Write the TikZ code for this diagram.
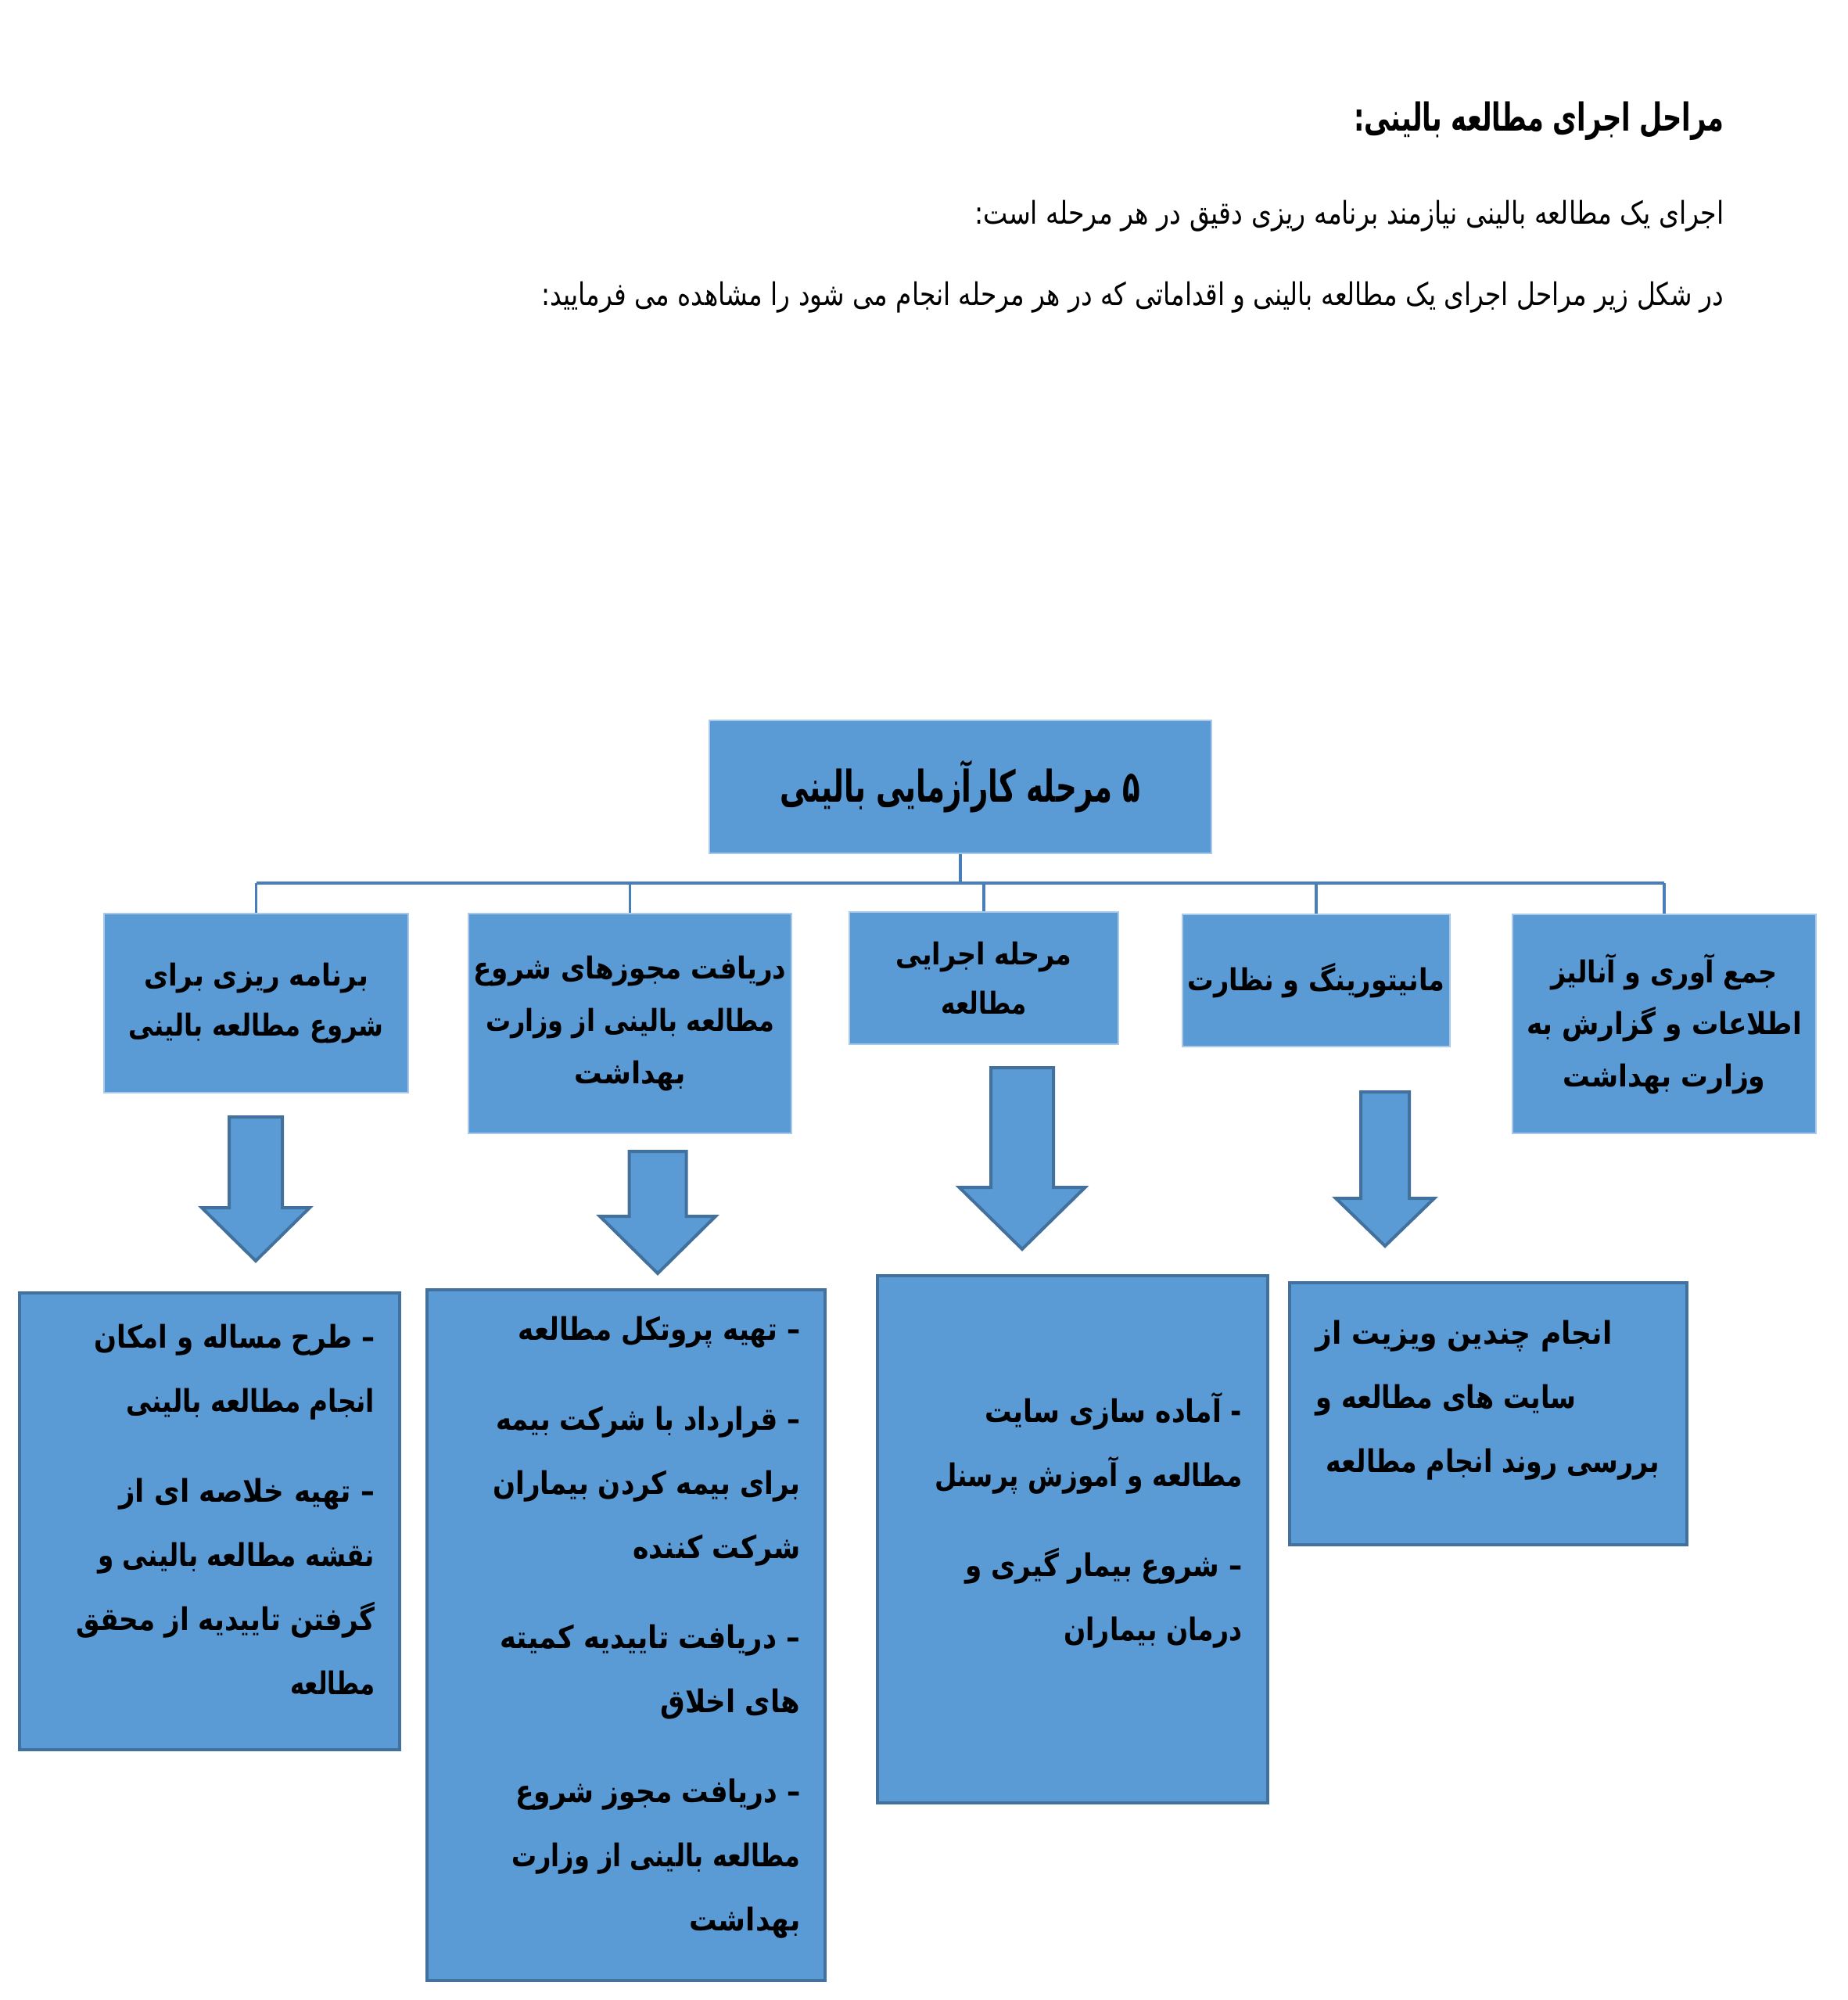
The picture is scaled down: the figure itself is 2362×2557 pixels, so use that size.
\documentclass[tikz,border=0pt]{standalone}
\usepackage{fontspec}
\usepackage{graphicx}
\TeXXeTstate=1
\newfontfamily\arfont[Script=Arabic]{DejaVu Sans}
\definecolor{boxblue}{HTML}{5B9BD5}
\definecolor{edgeblue}{HTML}{41719C}
\definecolor{connblue}{HTML}{4A7EBB}
\definecolor{lightedge}{HTML}{A9C9EA}
\newsavebox\fitbx
\newlength\fitln
% \fl{target width in px}{text}
\newcommand\fl[2]{\sbox\fitbx{#2}\setlength\fitln{\wd\fitbx}\pgfmathsetmacro\fitr{#1*0.3pt/\fitln}\scalebox{\fitr}[1]{\usebox\fitbx}}
\newcommand\fst{\rule{0pt}{14pt}}
\newcommand\leaffont{\arfont\bfseries\fontsize{12}{24.6}\selectfont}
\newcommand\ltwofont{\arfont\bfseries\fontsize{11.6}{19}\selectfont}
\newcommand\lthreefont{\arfont\bfseries\fontsize{11.6}{20}\selectfont}
\newcommand\blockdown[6]{\draw[blockarrow] ({#1-#3},#2) -- ({#1+#3},#2) -- ({#1+#3},#4) -- ({#1+#5},#4) -- (#1,#6) -- ({#1-#5},#4) -- ({#1-#3},#4) -- cycle;}
\begin{document}
\begin{tikzpicture}[x=0.3pt,y=-0.3pt,
  l2box/.style={rectangle,fill=boxblue,draw=lightedge,line width=0.5pt,inner sep=0pt,align=center},
  leafbox/.style={rectangle,fill=boxblue,draw=edgeblue,line width=1.2pt,inner sep=0pt},
  leaftext/.style={inner sep=0pt,align=right,font=\leaffont},
  hdr/.style={inner sep=0pt,anchor=base east},
  conn/.style={draw=connblue,line width=1.1pt},
  blockarrow/.style={fill=boxblue,draw=edgeblue,line width=1.2pt,line join=miter}]
\useasboundingbox[fill=white] (0,0) rectangle (2362,2557);

% header
\node[hdr,font=\arfont\bfseries\fontsize{14.8}{18}\selectfont] (title) at (2205,168) {\fl{473}{\beginR مراحل اجرای مطالعه بالینی:\endR}};
\node[hdr,font=\arfont\fontsize{12}{15}\selectfont] (intro1) at (2205,287) {\fl{958}{\beginR اجرای یک مطالعه بالینی نیازمند برنامه ریزی دقیق در هر مرحله است:\endR}};
\node[hdr,font=\arfont\fontsize{12}{15}\selectfont] (intro2) at (2205,390) {\fl{1512}{\beginR در شکل زیر مراحل اجرای یک مطالعه بالینی و اقداماتی که در هر مرحله انجام می شود را مشاهده می فرمایید:\endR}};

% top box
\node[l2box,minimum width=192.6pt,minimum height=51pt,font=\arfont\bfseries\fontsize{16.8}{20}\selectfont] (top) at (1228,1006) {\fl{461}{\beginR ۵ مرحله کارآزمایی بالینی\endR}};

% level 2
\node[l2box,minimum width=116.7pt,minimum height=68.7pt,font=\ltwofont] (s1) at (327.5,1282.5) {\fl{287}{\beginR برنامه ریزی برای\endR}\\\fl{326}{\beginR شروع مطالعه بالینی\endR}};
\node[l2box,minimum width=123.9pt,minimum height=84.3pt,font=\lthreefont] (s2) at (805.5,1308.5) {\fl{400}{\beginR دریافت مجوزهای شروع\endR}\\\fl{369}{\beginR مطالعه بالینی از وزارت\endR}\\\fl{142}{\beginR بهداشت\endR}};
\node[l2box,minimum width=103.2pt,minimum height=50.7pt,font=\ltwofont] (s3) at (1258,1250.5) {\fl{225}{\beginR مرحله اجرایی\endR}\\\fl{109}{\beginR مطالعه\endR}};
\node[l2box,minimum width=102.6pt,minimum height=50.7pt,font=\ltwofont] (s4) at (1683,1253.5) {\fl{329}{\beginR مانیتورینگ و نظارت\endR}};
\node[l2box,minimum width=116.4pt,minimum height=84pt,font=\lthreefont] (s5) at (2128,1309) {\fl{290}{\beginR جمع آوری و آنالیز\endR}\\\fl{352}{\beginR اطلاعات و گزارش به\endR}\\\fl{259}{\beginR وزارت بهداشت\endR}};

% connectors
\coordinate (bus) at (1228,1129);
\draw[conn] (top.south) -- (bus);
\draw[conn] (s1.north |- bus) -- (s5.north |- bus);
\foreach \s in {s1,s2,s3,s4,s5} \draw[conn] (\s.north |- bus) -- (\s.north);

% block arrows
\blockdown{327}{1428}{34}{1544}{69}{1612}
\blockdown{841}{1472}{36.5}{1555}{74}{1628}
\blockdown{1307}{1365}{40}{1518}{80.5}{1597}
\blockdown{1771}{1396}{31}{1532}{63}{1593}

% leaf boxes
\node[leafbox,minimum width=145.8pt,minimum height=175.2pt] (b1) at (268,1945) {};
\node[leafbox,minimum width=152.7pt,minimum height=264.9pt] (b2) at (800.5,2090.5) {};
\node[leafbox,minimum width=149.7pt,minimum height=202.2pt] (b3) at (1371.5,1968) {};
\node[leafbox,minimum width=152.4pt,minimum height=100.5pt] (b4) at (1903,1807.5) {};

\node[leaftext,anchor=north east] (b1t) at (480,1676) {\fst\fl{359}{\beginR – طرح مساله و امکان\endR}\\\fl{318}{\beginR انجام مطالعه بالینی\endR}\\[9.9pt]\fl{327}{\beginR – تهیه خلاصه ای از\endR}\\\fl{354}{\beginR نقشه  مطالعه بالینی و\endR}\\\fl{382}{\beginR گرفتن تاییدیه از محقق\endR}\\\fl{108}{\beginR مطالعه\endR}};

\node[leaftext,anchor=north east] (b2t) at (1024,1666) {\fst\fl{361}{\beginR – تهیه پروتکل مطالعه\endR}\\[9.9pt]\fl{389}{\beginR – قرارداد با شرکت بیمه\endR}\\\fl{393}{\beginR برای بیمه کردن بیماران\endR}\\\fl{214}{\beginR شرکت کننده\endR}\\[9.9pt]\fl{384}{\beginR – دریافت تاییدیه کمیته\endR}\\\fl{179}{\beginR های اخلاق\endR}\\[9.9pt]\fl{364}{\beginR – دریافت مجوز شروع\endR}\\\fl{369}{\beginR مطالعه بالینی از وزارت\endR}\\\fl{142}{\beginR بهداشت\endR}};

\node[leaftext,anchor=north east] (b3t) at (1589,1771) {\fst\fl{329}{\beginR - آماده سازی سایت\endR}\\\fl{393}{\beginR مطالعه و آموزش پرسنل\endR}\\[9.9pt]\fl{354}{\beginR – شروع بیمار گیری و\endR}\\\fl{228}{\beginR درمان بیماران\endR}};

\node[leaftext,align=left,anchor=north west] (b4t) at (1682,1671) {\fst\fl{379}{\beginR انجام چندین ویزیت از\endR}\\\fl{333}{\beginR سایت های مطالعه و\endR}\\\hspace*{3.9pt}\fl{426}{\beginR بررسی روند انجام مطالعه\endR}};
\end{tikzpicture}
\end{document}
